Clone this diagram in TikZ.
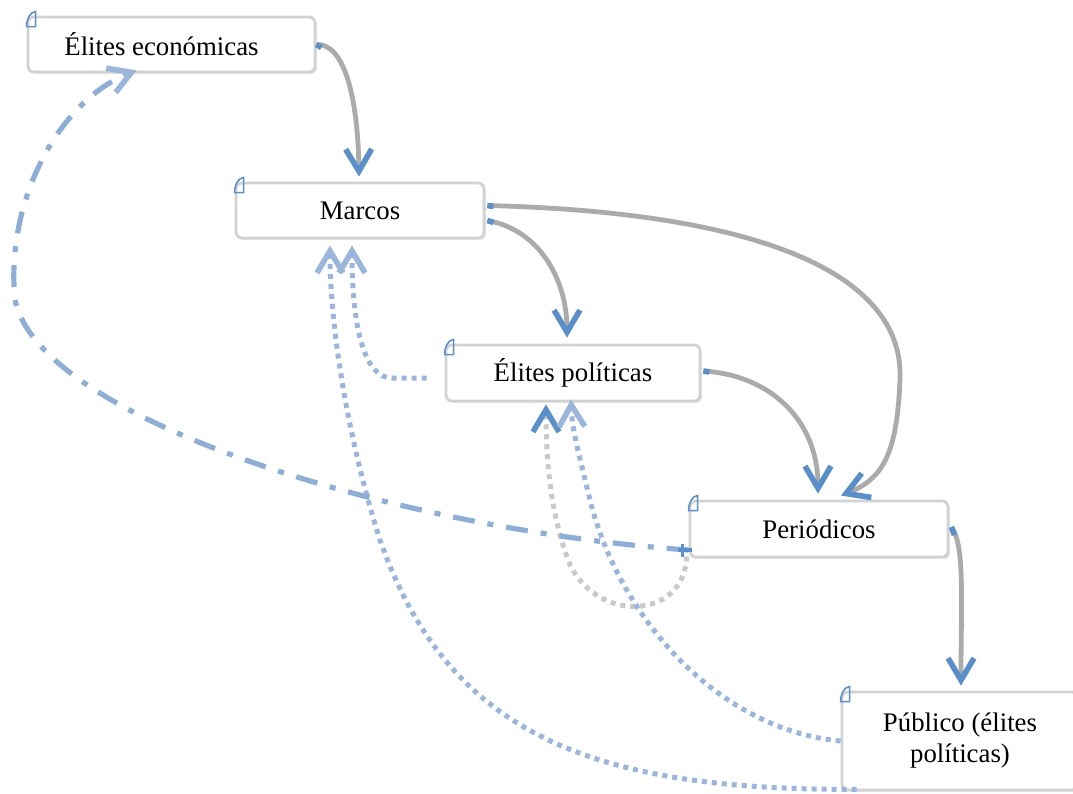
\documentclass[tikz,border=0pt]{standalone}
\usepackage{fontspec}
\setmainfont{Liberation Serif}
\usetikzlibrary{arrows.meta,calc,shadows}
\definecolor{boxline}{HTML}{D2D2D2}
\definecolor{linegray}{HTML}{ABABAB}
\definecolor{dotgray}{HTML}{C9C9C9}
\definecolor{tipblue}{HTML}{5B8FC9}
\definecolor{paleblue}{HTML}{9BB6DA}
\definecolor{dashblue}{HTML}{8EAED6}

\begin{document}
\begin{tikzpicture}[x=0.5pt,y=-0.5pt,
  every node/.style={font=\fontsize{13.4}{15.5}\selectfont},
  box/.style={draw=boxline,line width=1.4pt,rounded corners=3pt,fill=white,
    drop shadow={opacity=.2,shadow xshift=1pt,shadow yshift=-1pt}},
  vtip/.style={-{Straight Barb[length=11pt,width=13pt,line width=2.8pt,color=#1]}},
  link/.style={draw=linegray,line width=2.4pt,vtip=tipblue},
  graydots/.style={draw=dotgray,line width=2.5pt,dash pattern=on 2.5pt off 2.5pt,vtip=tipblue},
  bluedots/.style={draw=paleblue,line width=2.5pt,dash pattern=on 2.5pt off 2.5pt,vtip=paleblue},
  dashdot/.style={draw=dashblue,line width=2.6pt,dash pattern=on 11pt off 6.5pt on 3pt off 6.5pt,vtip=paleblue},
  stub/.style={tipblue,line width=2.8pt},
  cornermark/.style={tipblue,line width=.8pt}]
\useasboundingbox (0,0) rectangle (1073,794);

% boxes
\node[box,minimum width=143.5pt,minimum height=27.5pt] (econ) at (171.5,44.5) {Élites económicas\hspace*{10pt}};
\node[box,minimum width=124pt,minimum height=27.5pt] (marcos) at (360,210.5) {Marcos};
\node[box,minimum width=127pt,minimum height=28pt] (polit) at (573,373) {Élites políticas};
\node[box,minimum width=129pt,minimum height=28pt] (period) at (819,529) {Periódicos};
\node[box,minimum width=118pt,minimum height=49pt,align=center] (publico) at (960,741) {Público (élites\\políticas)};

% little marks at the corners
\foreach \b in {econ,marcos,polit,period,publico}
  \draw[cornermark] ($(\b.north west)+(0,11)$) -- ++(9,0) -- ++(0,-15) .. controls +(-5,0) and +(0,-8) .. ($(\b.north west)+(0,11)$) -- cycle;

% solid links
\draw[link] (econ.east) .. controls (345,43) and (358,100) .. ($(marcos.north)+(-1,-5)$);
\draw[link] ($(marcos.east)+(2,10)$) .. controls (540,230) and (567,280) .. ($(polit.north)+(-6,-6)$);
\draw[link] ($(marcos.east)+(2,-5)$) .. controls (750,212) and (905,270) .. (900,380)
  .. controls (897,450) and (885,478) .. ($(period.north)+(22,-4)$);
\draw[link] ($(polit.east)+(2,-2)$) .. controls (770,375) and (818,420) .. ($(period.north)+(-1,-6)$);
\draw[link] ($(period.east)+(2,-2)$) .. controls (965,545) and (961,600) .. ($(publico.north)+(1,-5)$);

% blue stubs at the starts
\draw[stub] (econ.east) -- ++(5,3);
\draw[stub] ($(marcos.east)+(2,10)$) -- ++(6,2);
\draw[stub] ($(marcos.east)+(2,-5)$) -- ++(6,1);
\draw[stub] ($(polit.east)+(2,-2)$) -- ++(6,1);
\draw[stub] ($(period.east)+(2,-2)$) -- ++(3,8);

% dotted links
\draw[graydots] ($(period.south west)+(-2,-2)$) .. controls (685,620) and (595,625) .. (568,560)
  .. controls (550,510) and (546,460) .. ($(polit.south)+(-27,2)$);
\draw[bluedots] (publico.west) .. controls (720,730) and (620,620) .. (590,500)
  .. controls (578,450) and (572,430) .. ($(polit.south)+(-2,-3)$);
\draw[bluedots] ($(publico.south west)+(16,-2)$) .. controls (600,790) and (450,740) .. (380,540)
  .. controls (345,430) and (330,320) .. ($(marcos.south)+(-30,6)$);
\draw[bluedots] ($(polit.west)+(-18,5)$) -- (392,378) .. controls (365,378) and (352,330) .. ($(marcos.south)+(-8,6)$);

% dash-dot link
\draw[dashdot] ($(period.west)+(0,21)$) .. controls (400,530) and (40,420) .. (15,300)
  .. controls (5,200) and (60,100) .. ($(econ.south west)+(110,-3)$);
\draw[tipblue,line width=1.8pt] ($(period.west)+(-11,21)$) -- ++(14,0);
\draw[tipblue,line width=1.8pt] ($(period.west)+(-6,15)$) -- ++(0,13);
\end{tikzpicture}
\end{document}
